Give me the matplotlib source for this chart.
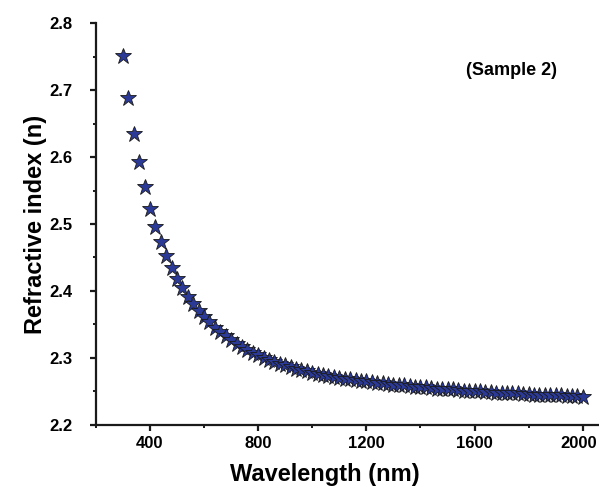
import matplotlib
matplotlib.use("Agg")
import matplotlib.pyplot as plt
import matplotlib.transforms as mtransforms
from matplotlib.ticker import MultipleLocator

# sample grid (nm) and refractive index
wavelength = list(range(300, 2001, 20))
n_index = [
    2.751, 2.688, 2.635, 2.592, 2.555, 2.523, 2.496, 2.473, 2.452, 2.434,
    2.418, 2.404, 2.391, 2.380, 2.370, 2.361, 2.353, 2.345, 2.338, 2.332,
    2.326, 2.321, 2.316, 2.312, 2.308, 2.304, 2.300, 2.297, 2.294, 2.291,
    2.289, 2.286, 2.284, 2.282, 2.280, 2.278, 2.276, 2.275, 2.273, 2.272,
    2.270, 2.269, 2.268, 2.267, 2.266, 2.265, 2.264, 2.263, 2.262, 2.261,
    2.260, 2.259, 2.259, 2.258, 2.257, 2.256, 2.256, 2.255, 2.254, 2.254,
    2.253, 2.253, 2.252, 2.251, 2.251, 2.250, 2.250, 2.249, 2.249, 2.248,
    2.248, 2.247, 2.247, 2.247, 2.246, 2.246, 2.245, 2.245, 2.245, 2.244,
    2.244, 2.244, 2.243, 2.243, 2.243, 2.242,
]
x_ticks = [400, 800, 1200, 1600, 2000]
y_ticks = [2.2, 2.3, 2.4, 2.5, 2.6, 2.7, 2.8]

plt.rcParams['font.family'] = ['Liberation Sans', 'DejaVu Sans']
plt.rcParams['font.weight'] = 'bold'

fig = plt.figure(figsize=(5.99, 4.94), dpi=100)
ax = fig.add_axes([0.160, 0.140, 0.840, 0.813])

ax.plot(wavelength, n_index, linestyle='none', marker='*', markersize=12,
        markerfacecolor='#2b3a96', markeredgecolor='#1a1a1a',
        markeredgewidth=0.6, clip_on=False)

ax.set_xlim(200, 2060)
ax.set_ylim(2.2, 2.8)
ax.set_xticks(x_ticks)
ax.set_yticks(y_ticks)
ax.xaxis.set_minor_locator(MultipleLocator(200))
ax.yaxis.set_minor_locator(MultipleLocator(0.05))

for side in ['top', 'right']:
    ax.spines[side].set_visible(False)
for side in ['left', 'bottom']:
    ax.spines[side].set_linewidth(1.6)
    ax.spines[side].set_color('#1a1a1a')

ax.tick_params(which='major', direction='out', length=4.5, width=1.6,
               labelsize=12, color='#1a1a1a')
ax.tick_params(which='minor', direction='out', length=2.5, width=1.4,
               color='#1a1a1a')
ax.tick_params(axis='x', which='major', pad=3.5)
ax.tick_params(axis='y', which='major', pad=12)

# nudge the "2000" label so it stays inside the canvas
last = ax.get_xticklabels()[-1]
last.set_transform(last.get_transform() +
                   mtransforms.ScaledTranslation(-4 / 100, 0, fig.dpi_scale_trans))

ax.set_xlabel('Wavelength (nm)', fontsize=17, fontweight='bold', labelpad=1)
ax.xaxis.set_label_coords(0.455, -0.095)
ax.set_ylabel('Refractive index (n)', fontsize=17, fontweight='bold')
ax.yaxis.set_label_coords(-0.097, 0.5)

ax.text(0.827, 0.883, '(Sample 2)', transform=ax.transAxes, fontsize=13,
        fontweight='bold', ha='center', va='center')

fig.savefig('out.png', dpi=100)
